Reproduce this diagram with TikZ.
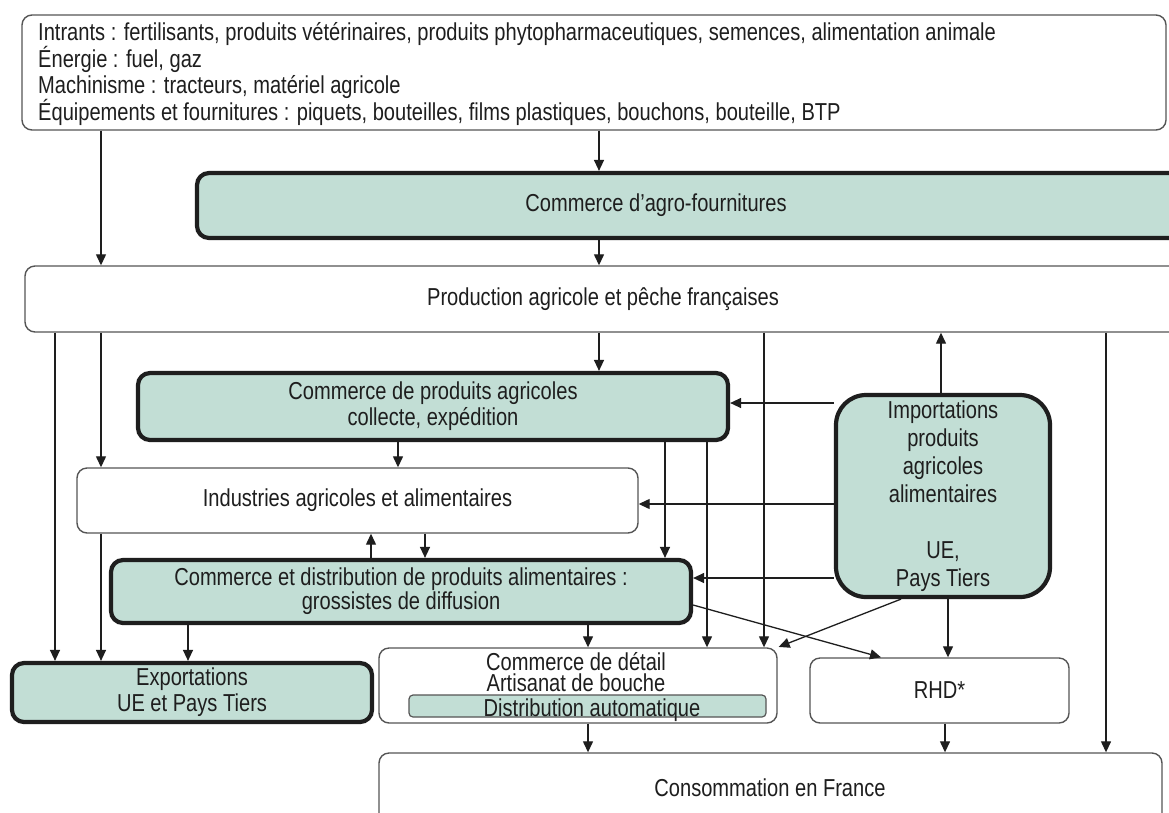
\documentclass[tikz,border=0pt]{standalone}
\usepackage{fontspec}
\setmainfont{Liberation Sans}[FakeStretch=0.82]
\usetikzlibrary{arrows.meta}
\definecolor{teal1}{HTML}{C2DED5}
\definecolor{ink}{HTML}{1E1E1E}
\definecolor{edgec}{HTML}{555555}
\begin{document}
\begin{tikzpicture}[x=1pt,y=-1pt,
 txt/.style={font=\fontsize{24.5}{26}\selectfont, text=ink, align=center, inner sep=0pt},
 thinbox/.style={draw=edgec, line width=1.4pt, rounded corners=10pt, fill=white, inner sep=0pt, txt},
 thickbox/.style={draw=ink, line width=4.2pt, rounded corners=12pt, fill=teal1, inner sep=0pt, txt},
 arr/.style={draw=ink, line width=1.3pt, -{Triangle[length=11pt,width=10pt]}},
]
\useasboundingbox (0,0) rectangle (1169,812);
\clip (0,0) rectangle (1169,812);
\fill[white] (0,0) rectangle (1169,812);

% x / y helper coordinates
\foreach \v in {55,101,188,371,398,425,588,599,656,665,707,764,881,901,941,945,948,1106}{\coordinate (x\v) at (\v,0);}
\foreach \v in {403,504,578,605}{\coordinate (y\v) at (0,\v);}

% boxes
\node[thinbox, minimum width=1144, minimum height=115] (top) at (594,72.5) {};
\node[txt, align=left, anchor=north west] (topT) at (38,22) {Intrants : fertilisants, produits vétérinaires, produits phytopharmaceutiques, semences, alimentation animale\\
Énergie : fuel, gaz\\
Machinisme : tracteurs, matériel agricole\\
Équipements et fournitures : piquets, bouteilles, films plastiques, bouchons, bouteille, BTP};

\node[thickbox, minimum width=988, minimum height=65] (agro) at (691,205.5) {};
\node[txt] (agroT) at (656,205.5) {Commerce d’agro-fournitures};

\node[thinbox, minimum width=1160, minimum height=66] (prod) at (605,299) {};
\node[txt] (prodT) at (603,299) {Production agricole et pêche françaises};

\node[thickbox, minimum width=590, minimum height=67] (cpa) at (433,406.5) {Commerce de produits agricoles\\collecte, expédition};

\node[thickbox, rounded corners=30pt, minimum width=214, minimum height=202,
      font=\fontsize{24.5}{28}\selectfont] (imp) at (943,496)
      {Importations\\produits\\agricoles\\alimentaires\\[28pt]UE,\\Pays Tiers};

\node[thinbox, minimum width=561, minimum height=65] (ind) at (357.5,500.5) {Industries agricoles et alimentaires};

\node[thickbox, minimum width=580, minimum height=63, font=\fontsize{24.5}{24}\selectfont] (dist) at (401,591.5) {Commerce et distribution de produits alimentaires :\\grossistes de diffusion};

\node[thickbox, minimum width=360, minimum height=59] (exp) at (192,692.5) {Exportations\\UE et Pays Tiers};

\node[thinbox, minimum width=398, minimum height=75] (det) at (578,685.5) {};
\node[txt, font=\fontsize{24.5}{20.5}\selectfont] (detT) at (576,672) {Commerce de détail\\Artisanat de bouche};
\node[draw=edgec, line width=1.2pt, rounded corners=4pt, fill=teal1, minimum width=357, minimum height=22, inner sep=0pt] (auto) at (587.5,706) {};
\node[txt, anchor=base] (autoT) at (592,716) {Distribution automatique};

\node[thinbox, minimum width=259, minimum height=65] (rhd) at (939.5,690.5) {RHD*};

\node[thinbox, minimum width=783, minimum height=77] (cons) at (770.5,791.5) {};
\node[txt] (consT) at (770,788) {Consommation en France};

% connectors
\draw[arr] (top.south -| x101) -- (prod.north -| x101);
\draw[arr] (top.south -| x599) -- (agro.north -| x599);
\draw[arr] (agro.south -| x599) -- (prod.north -| x599);
\draw[arr] (prod.south -| x55) -- (exp.north -| x55);
\draw[arr] (prod.south -| x101) -- (ind.north -| x101);
\draw[arr] (ind.south -| x101) -- (exp.north -| x101);
\draw[arr] (prod.south -| x599) -- (cpa.north -| x599);
\draw[arr] (prod.south -| x764) -- (det.north -| x764);
\draw[arr] (prod.south -| x1106) -- (cons.north -| x1106);
\draw[arr] (imp.north -| x941) -- (prod.south -| x941);
\draw[arr] (imp.west |- y403) -- (cpa.east |- y403);
\draw[arr] (imp.west |- y504) -- (ind.east |- y504);
\draw[arr] (imp.west |- y578) -- (dist.east |- y578);
\draw[arr] (imp.south -| x948) -- (rhd.north -| x948);
\draw[arr, shorten >=1pt] (imp.south -| x901) -- (det.north east);
\draw[arr] (cpa.south -| x398) -- (ind.north -| x398);
\draw[arr] (cpa.south -| x665) -- (dist.north -| x665);
\draw[arr] (cpa.south -| x707) -- (det.north -| x707);
\draw[arr] (dist.north -| x371) -- (ind.south -| x371);
\draw[arr] (ind.south -| x425) -- (dist.north -| x425);
\draw[arr] (dist.south -| x188) -- (exp.north -| x188);
\draw[arr] (dist.south -| x588) -- (det.north -| x588);
\draw[arr] (dist.east |- y605) -- (rhd.north -| x881);
\draw[arr] (det.south -| x588) -- (cons.north -| x588);
\draw[arr] (rhd.south -| x945) -- (cons.north -| x945);
\end{tikzpicture}
\end{document}
